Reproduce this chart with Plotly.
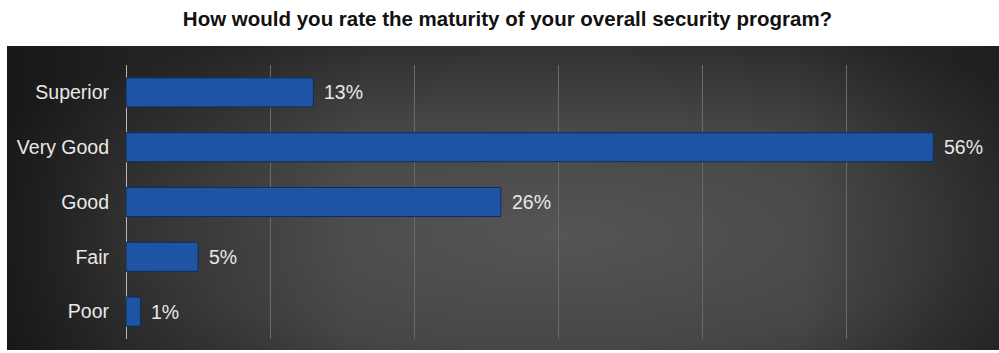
import base64
import plotly.graph_objects as go

# ---- data ----
categories = ["Superior", "Very Good", "Good", "Fair", "Poor"]
values = [13, 56, 26, 5, 1]
value_labels = ["13%", "56%", "26%", "5%", "1%"]
title_text = "How would you rate the maturity of your overall security program?"
x_ticks = [0, 10, 20, 30, 40, 50, 60]

# ---- background panel (gradient) as an inline SVG ----
svg = """<svg xmlns='http://www.w3.org/2000/svg' width='992' height='304' viewBox='0 0 992 304' preserveAspectRatio='none'>
<defs>
<radialGradient id='r' cx='0.55' cy='0.62' r='0.7'>
<stop offset='0' stop-color='#555555'/>
<stop offset='0.55' stop-color='#464646'/>
<stop offset='1' stop-color='#2a2a2a'/>
</radialGradient>
<linearGradient id='h' x1='0' y1='0' x2='1' y2='0'>
<stop offset='0' stop-color='#111111' stop-opacity='0.75'/>
<stop offset='0.12' stop-color='#111111' stop-opacity='0.35'/>
<stop offset='0.35' stop-color='#111111' stop-opacity='0'/>
<stop offset='0.8' stop-color='#111111' stop-opacity='0'/>
<stop offset='1' stop-color='#111111' stop-opacity='0.45'/>
</linearGradient>
</defs>
<rect width='992' height='304' fill='url(#r)'/>
<rect width='992' height='304' fill='url(#h)'/>
</svg>"""
bg_uri = "data:image/svg+xml;base64," + base64.b64encode(svg.encode()).decode()

W, H = 999, 353
L, R, T, B = 126, 8, 65, 14
pw, ph = W - L - R, H - T - B

def px_to_paper_x(px):
    return (px - L) / pw

def py_to_paper_y(py):
    return (H - B - py) / ph

FONT = "Liberation Sans, Arial"

fig = go.Figure()
fig.add_trace(go.Bar(
    x=values, y=categories, orientation="h",
    width=0.53,
    marker=dict(color="#1e54a3", line=dict(color="#0f2d60", width=1)),
    hoverinfo="x+y",
))

for c, v, t in zip(categories, values, value_labels):
    fig.add_annotation(x=v, y=c, text=t, showarrow=False, xanchor="left",
                       xshift=9, font=dict(family=FONT, size=19.5, color="#e8e8e8"))

fig.add_layout_image(dict(
    source=bg_uri, xref="paper", yref="paper",
    x=px_to_paper_x(7), y=py_to_paper_y(46),
    sizex=(999 - 7) / pw, sizey=(350 - 46) / ph,
    xanchor="left", yanchor="top", sizing="stretch", layer="below",
))

fig.update_layout(
    width=W, height=H,
    margin=dict(l=L, r=R, t=T, b=B),
    paper_bgcolor="white", plot_bgcolor="rgba(0,0,0,0)",
    showlegend=False,
    title=dict(text="<b>" + title_text + "</b>", x=507.5 / W, xref="container", xanchor="center",
               y=1 - 19 / H, yref="container", yanchor="middle",
               font=dict(family=FONT, size=20.5, color="#111111")),
    xaxis=dict(range=[0, 60], tickvals=x_ticks, showticklabels=False,
               showgrid=True, gridcolor="#6a6a6a", gridwidth=1,
               zeroline=True, zerolinecolor="#b8b8b8", zerolinewidth=1,
               fixedrange=True),
    yaxis=dict(categoryorder="array", categoryarray=categories, autorange="reversed",
               showgrid=False, zeroline=False, showline=False, ticks="",
               ticklabelstandoff=16,
               tickfont=dict(family=FONT, size=19.5, color="#e8e8e8"),
               fixedrange=True),
)

fig.write_html("out.html")
